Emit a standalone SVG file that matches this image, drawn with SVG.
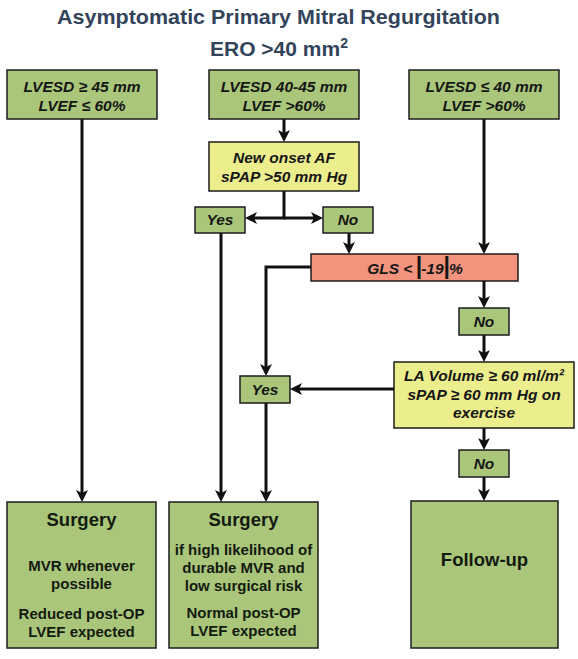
<svg xmlns="http://www.w3.org/2000/svg" width="578" height="659" viewBox="0 0 578 659">
<style>
.bg{fill:#ffffff}
.g{fill:#a9c67b;stroke:#1c1c1c;stroke-width:1.5}
.y{fill:#ecee8e;stroke:#1c1c1c;stroke-width:1.5}
.p{fill:#f1937d;stroke:#1c1c1c;stroke-width:1.5}
.ti{font-family:"Liberation Sans",Arial,sans-serif;font-weight:bold;fill:#33445a;text-anchor:middle}
.it{font-family:"Liberation Sans",Arial,sans-serif;font-weight:bold;font-style:italic;font-size:15.5px;fill:#161616;text-anchor:middle}
.hd{font-family:"Liberation Sans",Arial,sans-serif;font-weight:bold;font-size:18.5px;fill:#141a10;text-anchor:middle}
.bd{font-family:"Liberation Sans",Arial,sans-serif;font-weight:bold;font-size:15px;fill:#141a10;text-anchor:middle}
.c{fill:none;stroke:#111111;stroke-width:3;marker-end:url(#ah)}
.bar{font-style:normal;font-weight:bold;font-size:23px}
</style>
<defs>
<marker id="ah" viewBox="0 0 12 12" refX="8" refY="6" markerWidth="12" markerHeight="12" markerUnits="userSpaceOnUse" orient="auto">
<path d="M0,0 L12,6 L0,12 L3,6 Z" fill="#111111"/>
</marker>
</defs>
<rect class="bg" x="0" y="0" width="578" height="659"/>
<g id="title">
<text class="ti" x="278.5" y="24" font-size="20.5" textLength="443" lengthAdjust="spacingAndGlyphs">Asymptomatic Primary Mitral Regurgitation</text>
<text class="ti" x="279" y="56" font-size="21">ERO &gt;40 mm<tspan font-size="14" dy="-8">2</tspan></text>
</g>
<g id="connectors">
<path class="c" d="M82,119 V498"/>
<path class="c" d="M284,119 V138"/>
<path class="c" d="M284,191 V218 H249"/>
<path class="c" d="M284,218 H319"/>
<path class="c" d="M349,233 V250"/>
<path class="c" d="M484,119 V250"/>
<path class="c" d="M311,267 H266 V372"/>
<path class="c" d="M484,281 V304"/>
<path class="c" d="M484,335 V358"/>
<path class="c" d="M394,389 H294"/>
<path class="c" d="M221,233 V498"/>
<path class="c" d="M266,403 V498"/>
<path class="c" d="M484,428 V446"/>
<path class="c" d="M484,477 V497"/>
</g>
<g id="n-lvesd45">
<rect class="g" x="7" y="70" width="150" height="49"/>
<text class="it" x="82" y="92">LVESD ≥ 45 mm</text>
<text class="it" x="82" y="111">LVEF ≤ 60%</text>
</g>
<g id="n-lvesd4045">
<rect class="g" x="209" y="70" width="150" height="49"/>
<text class="it" x="284" y="92">LVESD 40-45 mm</text>
<text class="it" x="284" y="111">LVEF &gt;60%</text>
</g>
<g id="n-lvesd40">
<rect class="g" x="409" y="70" width="150" height="49"/>
<text class="it" x="484" y="92">LVESD ≤ 40 mm</text>
<text class="it" x="484" y="111">LVEF &gt;60%</text>
</g>
<g id="n-af">
<rect class="y" x="209" y="142" width="150" height="49"/>
<text class="it" x="284" y="163">New onset AF</text>
<text class="it" x="284" y="182">sPAP &gt;50 mm Hg</text>
</g>
<g id="n-yes1">
<rect class="g" x="195" y="207" width="50" height="26"/>
<text class="it" x="220" y="225">Yes</text>
</g>
<g id="n-no1">
<rect class="g" x="323" y="207" width="50" height="26"/>
<text class="it" x="348" y="225">No</text>
</g>
<g id="n-gls">
<rect class="p" x="311" y="254" width="207" height="27"/>
<text class="it" x="415" y="274">GLS &lt; <tspan class="bar" dx="-1">|</tspan><tspan dx="-1">-19</tspan><tspan class="bar">|</tspan><tspan dx="-1">%</tspan></text>
</g>
<g id="n-no2">
<rect class="g" x="459" y="308" width="50" height="27"/>
<text class="it" x="484" y="327">No</text>
</g>
<g id="n-la">
<rect class="y" x="394" y="362" width="180" height="66"/>
<text class="it" x="484" y="381">LA Volume ≥ 60 ml/m²</text>
<text class="it" x="484" y="400">sPAP ≥ 60 mm Hg on</text>
<text class="it" x="484" y="418">exercise</text>
</g>
<g id="n-yes2">
<rect class="g" x="240" y="376" width="50" height="27"/>
<text class="it" x="265" y="395">Yes</text>
</g>
<g id="n-no3">
<rect class="g" x="459" y="450" width="50" height="27"/>
<text class="it" x="484" y="469">No</text>
</g>
<g id="n-surgery1">
<rect class="g" x="7" y="502" width="149" height="146"/>
<text class="hd" x="81.5" y="526">Surgery</text>
<text class="bd" x="81.5" y="571">MVR whenever</text>
<text class="bd" x="81.5" y="589">possible</text>
<text class="bd" x="81.5" y="619">Reduced post-OP</text>
<text class="bd" x="81.5" y="637">LVEF expected</text>
</g>
<g id="n-surgery2">
<rect class="g" x="169" y="502" width="149" height="146"/>
<text class="hd" x="243.5" y="526">Surgery</text>
<text class="bd" x="243.5" y="555">if high likelihood of</text>
<text class="bd" x="243.5" y="573">durable MVR and</text>
<text class="bd" x="243.5" y="591">low surgical risk</text>
<text class="bd" x="243.5" y="618">Normal post-OP</text>
<text class="bd" x="243.5" y="636">LVEF expected</text>
</g>
<g id="n-followup">
<rect class="g" x="411" y="501" width="147" height="147"/>
<text class="hd" x="484.5" y="566" font-size="19.5">Follow-up</text>
</g>
</svg>
